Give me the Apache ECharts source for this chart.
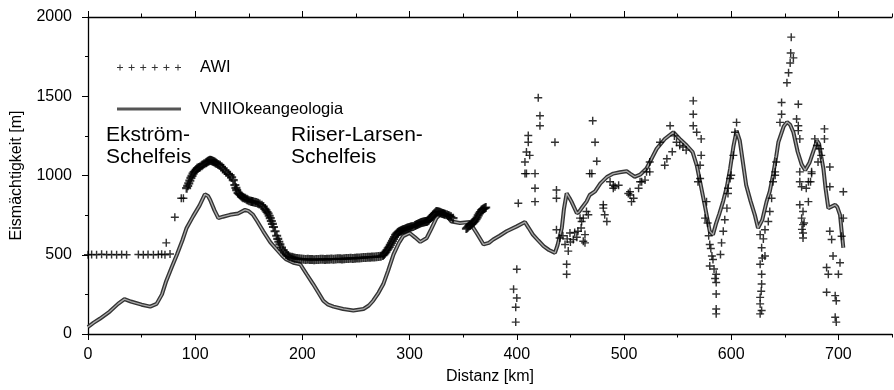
<!DOCTYPE html>
<html><head><meta charset="utf-8">
<script src="https://cdn.jsdelivr.net/npm/echarts@6/dist/echarts.min.js"></script>
<style>html,body{margin:0;padding:0;background:#fff}#c{width:894px;height:390px}</style>
</head><body><div id="c"></div>
<script>
// ---- data (km, m) ----
const xMajor = [0,100,200,300,400,500,600,700];
const xMinor = [50,150,250,350,450,550,650,750];
const vniiKm = [0,5,11,20,28,34,40,50,58,64,69,73,78,83,88,92,98,104,109,112,114,118,121.6,126,132.5,140,146.5,150,154,158,163.5,170,176,181,185,191.5,198,204,210,215,219.5,224,229,238,247.5,257,262,266,271,275.5,280,285,290,294,300,305,310,316,320,325,331.5,335,339,347,356,362.5,369,374,378,384,390.5,400,407.6,411,415,420,425,430,435.6,438,442,444,446.5,449,451,456,458,460,465,468,473,478,484,490,496,502.5,506,510,515,521,526,530.5,538,546,552,558.5,564,568,571,576,580,583,586,589,592.6,596,599,602,605,608,614,618,622,625,629,633,636,639,642,644,649,652,655,658,662,665.7,669,673,677,680,682,684,686,688,690.6,694,697,699,701.5,703,704.6];
const vniiM  = [44,70,96,140,190,220,205,185,173,190,250,335,420,502,590,669,742,810,881,870,846,780,731,740,752,760,783,775,752,710,648,580,533,495,470,450,440,377,315,260,210,185,173,158,148,158,180,210,260,315,400,502,575,617,637,610,581,606,660,731,773,745,710,700,706,637,565,575,596,620,648,679,706,670,627,590,554,530,512,560,669,790,887,860,835,762,770,790,835,877,900,950,990,1012,1020,1027,1010,992,1005,1044,1110,1169,1230,1273,1231,1189,1148,1060,960,790,648,627,700,760,840,930,1044,1180,1283,1220,939,840,752,669,720,835,900,1002,1120,1210,1310,1337,1320,1273,1150,1070,1033,1080,1160,1220,1200,1120,1044,920,794,805,815,800,752,650,544];

const awiShelf = [[0,500],[3.4,502],[8,500],[12.7,503],[17.4,500],[22,501],[26.7,500],[31.4,502],[36,500],[47,501],[51.6,500],[56,502],[61,500],[65.6,501],[68.7,503],[71.8,500],[76.5,505],[73,575],[81,737],[87,856],[89,856]];
const awiEkstrom = [[92,920],[93,935],[94,950],[95,968],[96,985],[97,998],[98,1012],[99,1022],[100,1030],[101,1038],[102,1045],[103.3,1050],[104.5,1054],[106,1062],[107,1068],[108.5,1074],[110,1080],[111,1085],[112,1090],[113,1093],[114,1096],[115,1095],[116,1092],[117,1089],[118,1085],[119,1080],[120,1075],[121.5,1070],[123,1065],[124.5,1055],[126,1045],[127.5,1032],[129,1020],[131,1010],[132.5,1002],[134,988],[135.5,971],[137,940],[138,922],[138.7,908],[140,890],[141,883],[142,877],[143,870],[144,865],[145,860],[146.5,856],[148,850],[149,845],[150.5,841],[152,838],[153,836],[154,835],[155.5,832],[157,830],[158.5,825],[160,820],[162,812],[163.5,804],[165,790],[166,780],[167,770],[168,760],[169,746],[170,731],[171,713],[172,695],[173,675],[174.5,648],[176,620],[177,600],[178,582],[179,565],[180.5,546],[182,530],[183.5,515],[185,502],[186.5,494],[188,488],[190,484],[191.5,481]];
const awiRiiser = [[193,478],[195,476],[197,474],[199,473],[201,472],[203,470],[205,471],[207,470],[209,470],[211,469],[213,470],[215,470],[217,471],[219,472],[221,470],[223,471],[225,472],[227,473],[229,472],[231,473],[233,474],[235,474],[237,473],[239,475],[241,476],[243,477],[245,478],[247,477],[249,478],[251,479],[253,480],[255,481],[257,482],[259,483],[261,484],[263,485],[265,486],[267,486],[269,488],[271,489],[273,490],[275,495],[276,502],[277,510],[278,520],[279,530],[280,540],[281,550],[282,562],[283,575],[284,588],[285,600],[286,612],[287,625],[288,633],[289,640],[290,645],[291,648],[292,652],[293,655],[294,658],[295,660],[296,663],[297,665],[298,668],[299,670],[300,672],[301,675],[302,677],[303.5,679],[305,684],[306,688],[307,691],[308,694],[309,697],[310,700],[311,703],[312,705],[313,707],[314,708],[315,709],[316,710],[317,715],[318,720],[319,728],[320,735],[321,742],[322,750],[323,758],[324,765],[325,773],[326,772],[327,770],[328,768],[329,765],[330,762],[331,760],[332,757],[333,755],[334.6,752],[336,748],[337,745],[338.5,740],[340.5,731],[353,665],[354,672],[355,680],[356,685],[357,690],[358,695],[359,700],[360,707],[361,715],[362,725],[363,735],[364,748],[365,760],[366,770],[367,780],[368,786],[369,790],[370,794],[371,798]];
const awiScatterA = [[397,283],[399,169],[399,75],[400,227],[400,408],[401.4,825],[407.6,1012],[407.6,1085],[409,1148],[409,1012],[410.7,1210],[410.7,1252],[412,1127],[417,1012],[417,919],[417,835],[420,1490],[421.6,1377],[421.6,1314],[435.6,1210],[437,908],[437,856]];
const awiScatterB = [[437,658],[440,606],[443,620],[445,565],[446.5,440],[446.5,377],[447,600],[448,523],[449.6,637],[450,580],[452.7,596],[454,640],[456,610],[457,648],[459,731],[460,669],[460.5,710],[462,585],[462,731],[463.6,575],[463.6,627],[465,773],[466.7,752],[468,1012],[470,1012],[470.8,1346],[473,1210],[474.6,1090]];
const awiScatterC = [[480.7,794],[480.7,815],[482,752],[484,710],[487,960],[490,919],[490,939],[491.6,929],[495,939],[504,887],[505.6,877],[505.6,898],[507,835],[509,856],[513.6,919],[515,960],[516.5,960],[519.6,971],[521,1023],[524,1023],[524,1085],[533.6,1210],[538,1065],[540,1106],[543,1314],[545,1150],[547,1250],[549,1210],[552,1189],[555,1180],[558,1160],[564.6,1471],[564.6,1387],[564.6,1314],[567.8,1273],[569,960],[571,1065],[571,981],[572,1231],[572,1127]];
const awiScatterD = [[575.6,731],[577,835],[578,700],[579,620],[580,565],[580,429],[581,540],[582,492],[583,470],[584,410],[585,350],[586,377],[586,325],[586,252],[586,158],[586,127],[590,502],[591,575],[592.6,648],[594,721],[596,794],[597,887],[597,919],[599,981],[600,1002],[602,1127],[603.5,1273],[605,1335]];
const awiScatterE = [[627,627],[628.4,544],[627,440],[628.4,377],[628.4,315],[627,231],[627,190],[628.4,148],[627,127],[628,270],[629,480],[630,600],[631.5,658],[631.5,492],[634.6,710],[636,773],[637.7,856],[639,960],[641,1023],[641,1002],[642,1085],[645.5,1335],[647,1387],[647,1460],[652,1585],[653.5,1648],[655,1710],[655.5,1773],[656,1873],[658,1742],[661,1356],[662.6,1450],[662.6,1314],[662.6,1283],[664,1231]];
const awiScatterF = [[664,1023],[664,960],[664,815],[665.7,929],[665.7,731],[666,660],[667,773],[667,690],[667,637],[667,606],[668,700],[670,919],[672,960],[672,835],[674,960],[675,1012],[675,1023],[678,1231],[680,1189],[681,1085],[682.8,1169],[684,1127],[687,1294],[687,1231],[689,419],[689,263],[690.6,377],[692,1054],[692,929],[692,648],[693.7,596],[695,492],[697,242],[697,106],[698,210],[698,75],[700,377],[701.5,450],[703,617],[704.6,898],[704.6,731]];

const awiDense = [].concat(awiEkstrom, awiRiiser);
const awiSparse = [].concat(awiShelf, awiScatterA, awiScatterB, awiScatterC, awiScatterD, awiScatterE, awiScatterF);
const vnii = vniiKm.map((k,i)=>[k, vniiM[i]]);

// ---- styling ----
const FONT = '"Liberation Sans", Arial, Helvetica, sans-serif';
const plusPath = 'path://M4.1,0H5.9V4.1H10V5.9H5.9V10H4.1V5.9H0V4.1H4.1Z';
const plusBold = 'path://M3.8,0H6.2V3.8H10V6.2H6.2V10H3.8V6.2H0V3.8H3.8Z';
function legendPluses(){
  let p = 'path://';
  for (let i=0;i<6;i++){
    const c = 3 + i*11.6;
    p += `M${(c-3).toFixed(1)},2.5H${(c+3).toFixed(1)}V3.5H${(c-3).toFixed(1)}Z`;
    p += `M${(c-0.5).toFixed(1)},0H${(c+0.5).toFixed(1)}V6H${(c-0.5).toFixed(1)}Z`;
  }
  return p;
}
const axisLineStyle = {color:'#000', width:1.3};
function xAx(pos, ticks, len, labels, extra){
  return Object.assign({
    type:'value', min:0, max:750, position:pos, gridIndex:0,
    axisLine:{show:true, lineStyle:axisLineStyle},
    axisTick:{show:true, customValues:ticks, length:len, lineStyle:{color:'#000', width:1}},
    axisLabel:{show:labels, customValues:ticks, color:'#000', fontFamily:FONT, fontSize:16, margin:13},
    splitLine:{show:false}
  }, extra||{});
}

const chart = echarts.init(document.getElementById('c'), null, {renderer:'canvas'});
chart.setOption({
  animation:false,
  backgroundColor:'#fff',
  grid:{left:88, right:2, top:17, bottom:53},
  xAxis:[
    xAx('bottom', xMajor, 6, true, {name:'Distanz [km]', nameLocation:'middle', nameGap:35, nameTextStyle:{color:'#000', fontFamily:FONT, fontSize:16}}),
    xAx('bottom', xMinor, 3.5, false, {axisLine:{show:false}}),
    xAx('top', xMajor, 6, false),
    xAx('top', xMinor, 3.5, false, {axisLine:{show:false}})
  ],
  yAxis:{
    type:'value', min:0, max:2000, interval:500,
    name:'Eismächtigkeit [m]', nameLocation:'middle', nameGap:63,
    nameTextStyle:{color:'#000', fontFamily:FONT, fontSize:16},
    axisLine:{show:true, lineStyle:axisLineStyle},
    axisTick:{show:true, length:6, lineStyle:{color:'#000'}},
    minorTick:{show:true, splitNumber:2, length:3, lineStyle:{color:'#000'}},
    axisLabel:{color:'#000', fontFamily:FONT, fontSize:16, margin:16, formatter:v=>String(v)},
    splitLine:{show:false}
  },
  legend:[
    {data:[{name:'AWI', icon:legendPluses()}], orient:'vertical', left:112, top:54, itemWidth:64, itemHeight:6,
     textStyle:{color:'#000', fontFamily:FONT, fontSize:16.5, padding:[0,0,0,14]}, selectedMode:false},
    {data:[{name:'VNIIOkeangeologia', icon:'rect', itemStyle:{color:'#555'}}], orient:'vertical', left:112, top:95.5, itemWidth:64, itemHeight:3,
     textStyle:{color:'#000', fontFamily:FONT, fontSize:16.5, padding:[0,0,0,14]}, selectedMode:false}
  ],
  graphic:[
    {type:'text', left:106, top:124, style:{text:'Ekström-\nSchelfeis', font:'21px '+FONT, fill:'#000', lineHeight:22}},
    {type:'text', left:291, top:124, style:{text:'Riiser-Larsen-\nSchelfeis', font:'21px '+FONT, fill:'#000', lineHeight:22}}
  ],
  series:[
    {name:'VNIIOkeangeologia', type:'line', data:vnii, showSymbol:false, smooth:false,
     lineStyle:{color:'#333', width:4}, itemStyle:{color:'#555'}, z:2},
    {name:'VNII_inner', type:'line', data:vnii, showSymbol:false, silent:true,
     lineStyle:{color:'#aaa', width:1.3}, z:3},
    {name:'AWI', type:'scatter', data:awiSparse, symbol:plusPath, symbolSize:8,
     itemStyle:{color:'#000'}, z:4},
    {name:'AWI', type:'scatter', data:awiDense, symbol:plusBold, symbolSize:9,
     itemStyle:{color:'#000'}, z:4}
  ]
});
</script></body></html>
